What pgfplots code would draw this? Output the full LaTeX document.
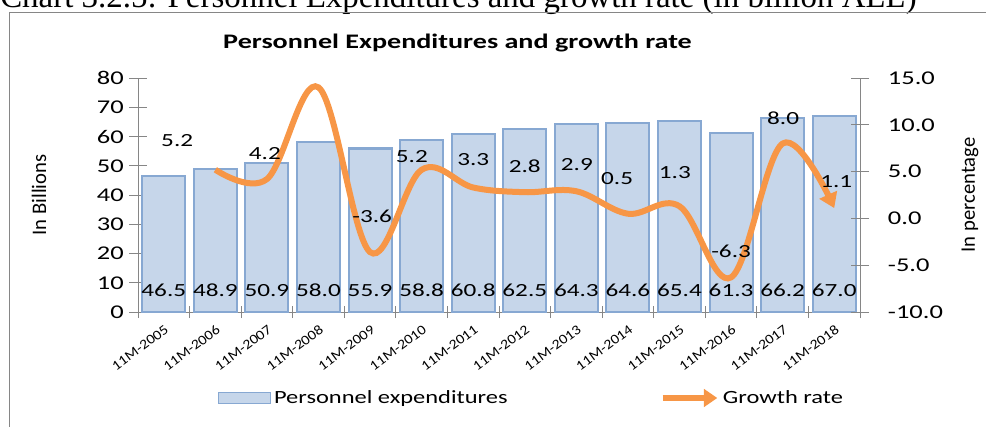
\documentclass[border=0pt]{standalone}
\usepackage{fontspec}
\setmainfont{Carlito}
\newfontfamily\wide[FakeStretch=1.36]{Carlito}
\newfontfamily\legf[FakeStretch=1.31]{Carlito}
\newfontfamily\xtf[FakeStretch=1.15]{Carlito}
\newfontfamily\serif{Liberation Serif}
\usepackage{pgfplots}
\usepackage{pgfplotstable}
\pgfplotsset{compat=1.18}
\usetikzlibrary{arrows.meta}
\definecolor{barfill}{RGB}{198,214,234}
\definecolor{barline}{RGB}{135,168,210}
\definecolor{orangeline}{RGB}{247,150,70}
\definecolor{axgray}{RGB}{134,134,134}

\pgfplotstableread{
x y
0 46.5
1 48.9
2 50.9
3 58.0
4 55.9
5 58.8
6 60.8
7 62.5
8 64.3
9 64.6
10 65.4
11 61.3
12 66.2
13 67.0
}\bars

\pgfplotstableread{
x y lab
0 7.3 46.5
1 7.3 48.9
2 7.3 50.9
3 7.3 58.0
4 7.3 55.9
5 7.3 58.8
6 7.3 60.8
7 7.3 62.5
8 7.3 64.3
9 7.3 64.6
10 7.3 65.4
11 7.3 61.3
12 7.3 66.2
13 7.3 67.0
}\barlabs

\pgfplotstableread{
x y
1 5.2
2 4.2
3 14.0
4 -3.6
5 5.2
6 3.3
7 2.8
8 2.9
9 0.5
10 1.3
11 -6.3
12 8.0
13 1.1
}\growth

\pgfplotstableread{
x y lab
0.26 8.27 5.2
1.96 6.93 4.2
3.03 16.8 14.0
4.04 0.26 -3.6
4.81 6.56 5.2
6.00 6.24 3.3
7.00 5.54 2.8
8.01 5.70 2.9
8.79 4.26 0.5
9.91 4.90 1.3
11.00 -3.54 -6.3
12.01 10.67 8.0
13.04 3.94 1.1
}\growlabs

\begin{document}
\begin{tikzpicture}
\path[use as bounding box] (0,0) rectangle (739.5pt,-319.5pt);
\clip (0,0) rectangle (739.5pt,-319.5pt);
\begin{scope}[x=0.75pt,y=-0.75pt]
\node[anchor=base west, inner sep=0, font=\serif\fontsize{24.7}{26}\selectfont] at (0,7) {Chart 3.2.5: Personnel Expenditures and growth rate (in billion ALL)};
\draw[axgray, line width=0.75pt] (9,440) -- (9,12) -- (1000,12);
\node[anchor=base, inner sep=0, font=\wide\fontsize{15.5}{18}\selectfont\bfseries] at (457.5,48) {Personnel Expenditures and growth rate};
\node[rotate=90, inner sep=0, font=\fontsize{15.5}{18}\selectfont] at (39,195) {In Billions};
\node[rotate=90, inner sep=0, font=\fontsize{15.5}{18}\selectfont] at (970,195) {In percentage};
\end{scope}

\begin{axis}[
  at={(103.5pt,-234pt)}, anchor=south west,
  scale only axis, width=541.5pt, height=175.5pt,
  xmin=-0.5, xmax=13.5, ymin=0, ymax=80,
  axis x line*=bottom, axis y line*=left,
  axis line style={axgray, line width=0.75pt},
  ytick={0,10,...,80},
  xtick={0,...,13},
  xticklabels={11M-2005,11M-2006,11M-2007,11M-2008,11M-2009,11M-2010,11M-2011,11M-2012,11M-2013,11M-2014,11M-2015,11M-2016,11M-2017,11M-2018},
  minor xtick={-0.5,0.5,...,13.5},
  major x tick style={draw=none},
  minor x tick style={axgray, line width=0.75pt},
  y tick style={axgray, line width=0.75pt},
  tick align=center,
  major tick length=13.5pt,
  minor tick length=9pt,
  /pgf/number format/assume math mode=true,
  yticklabel style={font=\wide\fontsize{14.6}{16}\selectfont, anchor=east, inner sep=0pt},
  yticklabel shift=3.75pt,
  xticklabel style={font=\xtf\fontsize{10.3}{12}\selectfont, rotate=36.5, anchor=east, inner sep=0pt, xshift=3pt},
  xticklabel shift=7pt,
  legend style={at={(0.105,-0.3675)}, anchor=west, draw=none, fill=none,
    legend columns=2, font=\legf\fontsize{14}{16}\selectfont,
    /tikz/every even column/.append style={column sep=112pt}},
  legend cell align=left,
]
\addplot[ybar, bar width=32.25pt, fill=barfill, draw=barline, line width=1.6pt,
  legend image code/.code={\draw[fill=barfill, draw=barline, line width=1pt] (0pt,-4pt) rectangle (39pt,4pt);}]
  table[x=x, y=y] {\bars};
\addlegendentry{Personnel expenditures}
\addplot[draw=none, forget plot, nodes near coords, point meta=explicit symbolic,
  every node near coord/.style={anchor=center, inner sep=0pt, font=\wide\fontsize{13.9}{16}\selectfont}]
  table[x=x, y=y, meta=lab] {\barlabs};
\addlegendimage{legend image code/.code={\draw[orangeline, line width=4.5pt, -{Triangle[length=10pt,width=13pt]}] (0pt,0pt) -- (41pt,0pt);}}
\addlegendentry{Growth rate}
\end{axis}

\begin{axis}[
  at={(103.5pt,-234pt)}, anchor=south west,
  scale only axis, width=541.5pt, height=175.5pt,
  xmin=-0.5, xmax=13.5, ymin=-10, ymax=15,
  axis x line=none, axis y line*=right,
  axis line style={axgray, line width=0.75pt},
  ytick={-10,-5,...,15},
  y tick style={axgray, line width=0.75pt},
  tick align=center,
  major tick length=13.5pt,
  /pgf/number format/assume math mode=true,
  yticklabel style={font=\wide\fontsize{14.6}{16}\selectfont, anchor=west, inner sep=0pt,
    /pgf/number format/.cd, fixed, fixed zerofill, precision=1},
  yticklabel shift=14pt,
]
\addplot[orangeline, line width=4.5pt, smooth, tension=0.6, -{Triangle[length=11pt,width=14pt]}]
  table[x=x, y=y] {\growth};
\addplot[draw=none, nodes near coords, point meta=explicit symbolic,
  every node near coord/.style={anchor=center, inner sep=0pt, font=\wide\fontsize{13.9}{16}\selectfont}]
  table[x=x, y=y, meta=lab] {\growlabs};
\end{axis}
\end{tikzpicture}
\end{document}
